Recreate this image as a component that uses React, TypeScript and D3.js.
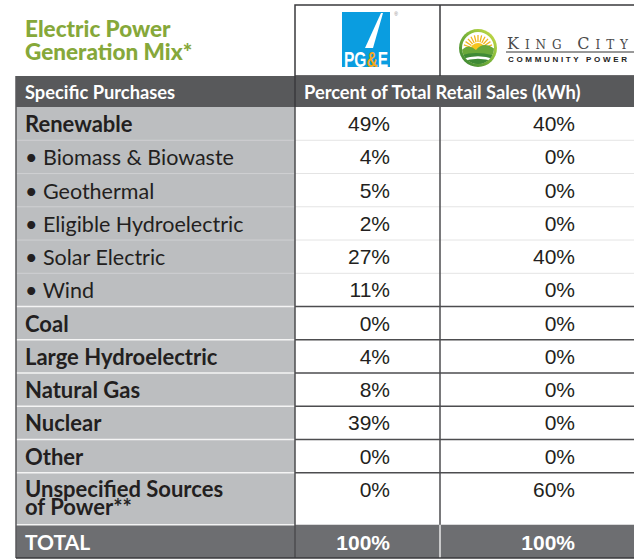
import React from 'react';
import * as d3 from 'd3';

const categories = [
  'Renewable',
  'Biomass & Biowaste',
  'Geothermal',
  'Eligible Hydroelectric',
  'Solar Electric',
  'Wind',
  'Coal',
  'Large Hydroelectric',
  'Natural Gas',
  'Nuclear',
  'Other',
  'Unspecified Sources\nof Power**',
];
const subItems = ['Biomass & Biowaste', 'Geothermal', 'Eligible Hydroelectric', 'Solar Electric', 'Wind'];
const pgeValues = [49, 4, 5, 2, 27, 11, 0, 4, 8, 39, 0, 0];
const kccpValues = [40, 0, 0, 0, 40, 0, 0, 0, 0, 0, 0, 60];
const totals = [100, 100];
const series = ['pge', 'kccp'];

const W = 634;
const H = 559;
const LABEL_FONT = 'Lato, "Open Sans", sans-serif';
const NUM_FONT = '"Liberation Sans", Arial, sans-serif';
const INK = '#231f20';

const PgeLogo = () => (
  <g>
    <rect x={342} y={12} width={48} height={55} fill="#0a9de0" />
    <path d="M381,13 L383,13 L373,48 L365,48 Z" fill="#fff" />
    <text x={366} y={67} textAnchor="middle" fontFamily={'"Liberation Sans Narrow", "Liberation Sans", Arial'} fontWeight="bold" fontSize={22} textLength={44} lengthAdjust="spacingAndGlyphs" fill="#fff">
      PG<tspan fill="#f7a81b">&amp;</tspan>E
    </text>
    <text x={396} y={16} fontSize={5} fill="#888" fontFamily={NUM_FONT} textAnchor="middle">®</text>
  </g>
);

const KingLogo = () => {
  const cx = 478;
  const cy = 48;
  const r = 19;
  const rays = d3.range(-70, 71, 14);
  return (
    <g>
      <defs>
        <linearGradient id="ring" x1="0" y1="1" x2="1" y2="0">
          <stop offset="0" stopColor="#2e7d32" />
          <stop offset="0.6" stopColor="#8bbf3b" />
          <stop offset="1" stopColor="#d6e04a" />
        </linearGradient>
        <clipPath id="inner">
          <circle cx={cx} cy={cy} r={r - 3} />
        </clipPath>
      </defs>
      <circle cx={cx} cy={cy} r={r} fill="url(#ring)" />
      <circle cx={cx} cy={cy} r={r - 3} fill="#fff" />
      <g clipPath="url(#inner)">
        {rays.map((a) => {
          const t = ((a - 90) * Math.PI) / 180;
          return (
            <line key={a} x1={cx + Math.cos(t) * 8} y1={cy + 2 + Math.sin(t) * 8} x2={cx + Math.cos(t) * 15} y2={cy + 2 + Math.sin(t) * 15} stroke="#f2b51d" strokeWidth={1.3} />
          );
        })}
        <circle cx={cx} cy={cy + 3} r={8} fill="#f7c51e" />
        <path d={`M${cx - 18},${cy + 4} Q${cx - 10},${cy - 6} ${cx - 2},${cy + 2} Q${cx + 6},${cy - 8} ${cx + 18},${cy + 2} L${cx + 18},${cy + 20} L${cx - 18},${cy + 20} Z`} fill="#6aa83a" />
        <path d={`M${cx - 18},${cy + 8} Q${cx - 4},${cy + 2} ${cx + 18},${cy + 8} L${cx + 18},${cy + 20} L${cx - 18},${cy + 20} Z`} fill="#3f8a35" />
        <path d={`M${cx - 18},${cy + 13} Q${cx},${cy + 6} ${cx + 18},${cy + 13}`} stroke="#fff" strokeWidth={2.5} fill="none" />
      </g>
      <text x={507} y={49} fontFamily={'"DejaVu Serif", "Liberation Serif", serif'} fontSize={12} fill="#4a4a4a" textLength={121} lengthAdjust="spacing">
        <tspan fontSize={16}>K</tspan>ING <tspan fontSize={16}>C</tspan>ITY
      </text>
      <line x1={506} x2={634} y1={52} y2={52} stroke="#333" strokeWidth={1} />
      <text x={508} y={61.5} fontFamily={NUM_FONT} fontWeight="bold" fontSize={8} fill="#222" textLength={119} lengthAdjust="spacing">
        COMMUNITY POWER
      </text>
    </g>
  );
};

export default function App() {
  const units = categories.map((c) => (c.includes('\n') ? 1.56 : 1)).concat([1]);
  const starts = [0, ...Array.from(d3.cumsum(units))];
  const y = d3.scaleLinear().domain([0, d3.sum(units)]).range([107, 558]);

  const colLeft = 16;
  const col1 = 295;
  const col2 = 440;
  const right = 640;
  const valueX = d3.scaleOrdinal<string, number>().domain(series).range([390, 575]);
  const values: Record<string, number[]> = { pge: pgeValues, kccp: kccpValues };
  const fmt = (v: number) => `${v}%`;

  const totalTop = y(starts[categories.length]);
  const totalBottom = y(starts[categories.length + 1]);

  return (
    <svg width={W} height={H} style={{ position: 'absolute', left: 0, top: 0 }}>
      <rect width={W} height={H} fill="#fff" />

      {/* title */}
      <text x={25} y={37} fontFamily={LABEL_FONT} fontWeight={900} fontSize={22.5} fill="#86a83a">Electric Power</text>
      <text x={25} y={60} fontFamily={LABEL_FONT} fontWeight={900} fontSize={22.5} fill="#86a83a">Generation Mix*</text>

      {/* logo box */}
      <rect x={col1} y={5} width={right - col1} height={71} fill="#fff" stroke="#3a3a3c" strokeWidth={1.5} />
      <line x1={col2} x2={col2} y1={5} y2={76} stroke="#3a3a3c" strokeWidth={1.5} />
      <PgeLogo />
      <KingLogo />

      {/* header band */}
      <rect x={colLeft} y={76} width={right - colLeft} height={31} fill="#58595b" />
      <line x1={col1} x2={col1} y1={76} y2={107} stroke="#3a3a3c" strokeWidth={1.5} />
      <text x={25} y={99} fontFamily={LABEL_FONT} fontWeight="bold" fontSize={18.3} fill="#fff">Specific Purchases</text>
      <text x={304} y={99} fontFamily={LABEL_FONT} fontWeight="bold" fontSize={18.3} fill="#fff">Percent of Total Retail Sales (kWh)</text>

      {/* label column body */}
      <rect x={colLeft} y={107} width={col1 - colLeft} height={totalTop - 107} fill="#bcbec0" />

      {/* row separators */}
      {categories.map((c, i) => {
        if (i === 0) return null;
        const yy = y(starts[i]);
        const sub = subItems.includes(c);
        return (
          <g key={`sep-${i}`}>
            <line x1={colLeft} x2={col1} y1={yy} y2={yy} stroke={sub ? '#cfd0d2' : '#f4f4f4'} strokeWidth={sub ? 1 : 1.5} />
            <line x1={col1} x2={right} y1={yy} y2={yy} stroke={sub ? '#e4e4e4' : '#4d4d4f'} strokeWidth={sub ? 1 : 1.5} />
          </g>
        );
      })}

      {/* total band */}
      <rect x={colLeft} y={totalTop} width={right - colLeft} height={totalBottom - totalTop} fill="#6d6e71" />
      <line x1={colLeft} x2={col1} y1={totalTop} y2={totalTop} stroke="#f4f4f4" strokeWidth={1.5} />
      <line x1={col2} x2={col2} y1={totalTop} y2={totalBottom} stroke="#e8e8e8" strokeWidth={1.5} />

      {/* vertical rules */}
      <line x1={col1} x2={col1} y1={107} y2={totalBottom} stroke="#4d4d4f" strokeWidth={1.5} />
      <line x1={col2} x2={col2} y1={107} y2={totalTop} stroke="#4d4d4f" strokeWidth={1.5} />
      <line x1={colLeft} x2={colLeft} y1={76} y2={totalBottom} stroke="#58595b" strokeWidth={1.5} />
      <line x1={colLeft} x2={right} y1={totalBottom} y2={totalBottom} stroke="#3a3a3c" strokeWidth={1.5} />

      {/* labels and values */}
      {categories.map((c, i) => {
        const top = y(starts[i]);
        const sub = subItems.includes(c);
        const lines = c.split('\n');
        return (
          <g key={c}>
            {lines.length > 1 ? (
              <text x={25} y={top + 24.5} fontFamily={LABEL_FONT} fontWeight="bold" fontSize={22} fill={INK}>
                {lines.map((l, k) => (
                  <tspan key={l} x={25} dy={k === 0 ? 0 : 17.5}>{l}</tspan>
                ))}
              </text>
            ) : (
              <text x={25} y={top + 25} fontFamily={LABEL_FONT} fontWeight={sub ? 'normal' : 'bold'} fontSize={sub ? 21.5 : 22} fill={INK}>
                {sub ? `• ${c}` : c}
              </text>
            )}
            {series.map((s) => (
              <text key={s} x={valueX(s)} y={top + 24} textAnchor="end" fontFamily={NUM_FONT} fontSize={21} fill={INK}>
                {fmt(values[s][i])}
              </text>
            ))}
          </g>
        );
      })}

      <text x={25} y={totalTop + 25} fontFamily={LABEL_FONT} fontWeight="bold" fontSize={21} fill="#fff">TOTAL</text>
      {series.map((s, k) => (
        <text key={s} x={valueX(s)} y={totalTop + 25} textAnchor="end" fontFamily={NUM_FONT} fontWeight="bold" fontSize={21} fill="#fff">
          {fmt(totals[k])}
        </text>
      ))}
    </svg>
  );
}
